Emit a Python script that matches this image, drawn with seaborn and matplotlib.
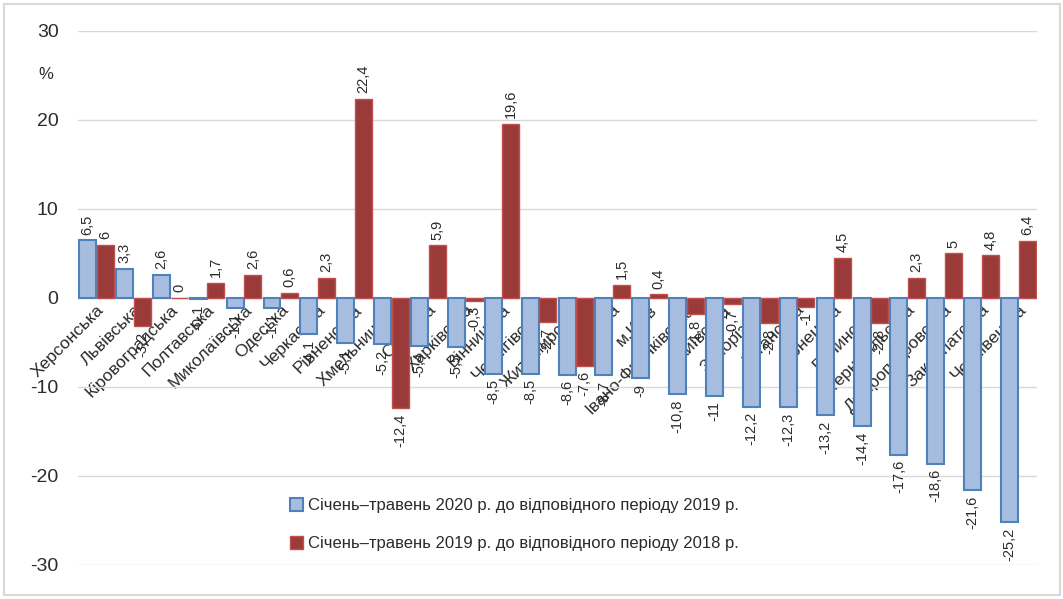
import matplotlib
matplotlib.use('Agg')
import matplotlib.pyplot as plt
from matplotlib.patches import Patch, Rectangle
import pandas as pd
import seaborn as sns

regions = ['Херсонська', 'Львівська', 'Кіровоградська', 'Полтавська', 'Миколаївська',
           'Одеська', 'Черкаська', 'Рівненська', 'Хмельницька', 'Сумська', 'Харківська',
           'Вінницька', 'Чернігівська', 'Житомирська', 'Україна', 'м.Київ',
           'Івано-Франківська', 'Київська', 'Запорізька', 'Луганська', 'Донецька',
           'Волинська', 'Тернопільська', 'Дніпропетровська', 'Закарпатська', 'Чернівецька']

val_2020 = [6.5, 3.3, 2.6, -0.1, -1.1, -1.1, -4.1, -5.1, -5.2, -5.4, -5.5, -8.5, -8.5,
            -8.6, -8.7, -9, -10.8, -11, -12.2, -12.3, -13.2, -14.4, -17.6, -18.6, -21.6, -25.2]
val_2019 = [6, -3.2, 0, 1.7, 2.6, 0.6, 2.3, 22.4, -12.4, 5.9, -0.3, 19.6, -2.7,
            -7.6, 1.5, 0.4, -1.8, -0.7, -2.8, -1, 4.5, -2.8, 2.3, 5, 4.8, 6.4]

lbl_2020 = 'Січень–травень 2020 р. до відповідного періоду 2019 р.'
lbl_2019 = 'Січень–травень 2019 р. до відповідного періоду 2018 р.'

blue_fill, blue_edge = '#a7bde0', '#4f81bd'
red_fill, red_edge = '#9b3b39', '#c0504d'
txt = '#2b2b2b'

df = pd.DataFrame({
    'region': regions * 2,
    'value': val_2020 + val_2019,
    'period': [lbl_2020] * len(regions) + [lbl_2019] * len(regions),
})

sns.set_theme(style='white')
plt.rcParams['font.family'] = ['Liberation Sans', 'DejaVu Sans']
plt.rcParams['axes.unicode_minus'] = False

fig = plt.figure(figsize=(10.63, 5.99), dpi=100)
ax = fig.add_axes([0.0734, 0.0568, 0.902, 0.8915])

sns.barplot(data=df, x='region', y='value', hue='period', palette=[blue_fill, red_fill],
            width=0.96, gap=0.04, saturation=1, legend=False, ax=ax)

def fmt(v):
    return f'{v:g}'.replace('.', ',')

for cont, vals, ec, lw in zip(ax.containers, [val_2020, val_2019], [blue_edge, red_edge], [1.5, 1.0]):
    for bar in cont:
        bar.set_edgecolor(ec)
        bar.set_linewidth(lw)
    ax.bar_label(cont, labels=[fmt(v) for v in vals], rotation=90, padding=4,
                 fontsize=10.5, color=txt)

ax.set_ylim(-30, 30)
ax.set_yticks(range(-30, 31, 10))
ax.set_xlim(-0.5, len(regions) - 0.5)
ax.yaxis.grid(True, color='#d9d9d9', linewidth=1)
ax.set_axisbelow(True)
for s in ax.spines.values():
    s.set_visible(False)
ax.spines['bottom'].set_position(('data', 0))
ax.set_xlabel('')
ax.set_ylabel('')
ax.set_xticks(range(len(regions)))
ax.set_xticklabels(regions, rotation=45, ha='right', va='top', rotation_mode='anchor',
                   fontsize=12.5, color=txt)
ax.tick_params(axis='x', length=0, pad=3)
ax.tick_params(axis='y', length=0, pad=14, labelsize=14, labelcolor=txt)

fig.text(0.036, 0.875, '%', fontsize=12, color=txt, ha='left', va='center')

handles = [Patch(facecolor=blue_fill, edgecolor=blue_edge, linewidth=1.5),
           Patch(facecolor=red_fill, edgecolor=red_edge, linewidth=1.0)]
fig.legend(handles, [lbl_2020, lbl_2019], loc='center', bbox_to_anchor=(0.484, 0.124),
           frameon=False, fontsize=12, labelspacing=1.35, handlelength=0.8,
           handleheight=0.8, handletextpad=0.3, labelcolor=txt)

fig.patches.append(Rectangle((0.004, 0.007), 0.993, 0.986, transform=fig.transFigure,
                             fill=False, edgecolor='#d9d9d9', linewidth=1.5))

fig.savefig('out.png', dpi=100, facecolor='white')
